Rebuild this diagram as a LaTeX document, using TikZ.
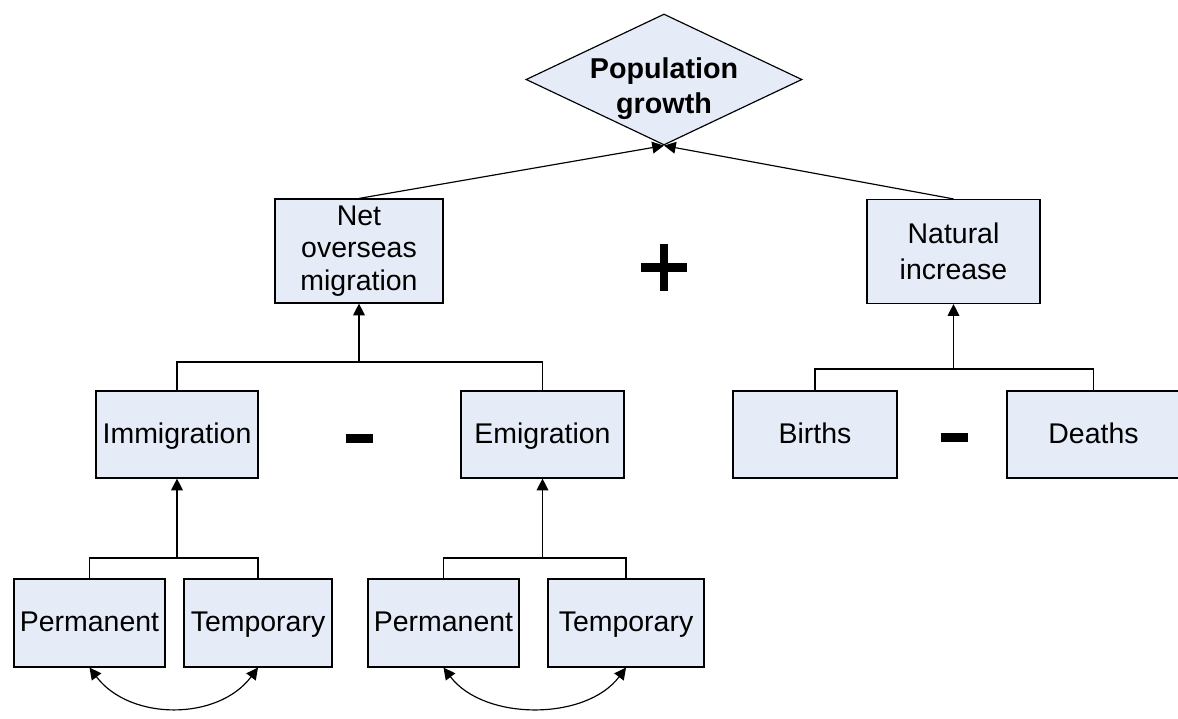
\documentclass[tikz,border=0pt]{standalone}
\usepackage{fontspec}
\setmainfont{Liberation Sans}
\usetikzlibrary{shapes.geometric,arrows.meta}
\definecolor{boxfill}{RGB}{230,236,247}
\def\pxu{0.03cm}
\begin{document}
\begin{tikzpicture}[x=0.03cm,y=-0.03cm,
  box/.style={draw=black,fill=boxfill,line width=1pt,inner sep=0pt,align=center,
    font=\fontsize{24.3}{27}\selectfont},
  bigbox/.style={box,minimum width=168*\pxu,minimum height=104*\pxu},
  midbox/.style={box,minimum height=87*\pxu,text height=19.5pt,text depth=4.9pt},
  lowbox/.style={box,minimum height=88*\pxu,text height=19.5pt,text depth=4.9pt},
  link/.style={line width=1pt},
  arr/.style={line width=1pt,-{Triangle[length=10pt,width=10pt]}},
  twoway/.style={line width=1pt,{Triangle[length=10pt,width=10pt]}-{Triangle[length=10pt,width=10pt]}},
  bar/.style={fill=black,inner sep=0pt}]
\useasboundingbox (0,0) rectangle (1178,718);

% top goal
\node[diamond,draw=black,fill=boxfill,line width=1pt,inner sep=0pt,
  minimum width=276*\pxu,minimum height=131*\pxu,
  label={[font=\bfseries\fontsize{24.5}{30}\selectfont,align=center,yshift=-9*\pxu]center:{Population\\growth}}]
  (pg) at (664,79.5) {};

% second level
\node[bigbox,font=\fontsize{24.3}{27.5}\selectfont] (nom) at (359,251) {Net\\overseas\\migration};
\node[bigbox,minimum width=173*\pxu,font=\fontsize{24.3}{30.5}\selectfont] (ni) at (953.5,251.5) {Natural\\increase};

% third level
\node[midbox,minimum width=162*\pxu] (imm) at (177,434.5) {Immigration};
\node[midbox,minimum width=163*\pxu] (emi) at (542.5,434.5) {Emigration};
\node[midbox,minimum width=164*\pxu] (bir) at (815,434.5) {Births};
\node[midbox,minimum width=173*\pxu] (dea) at (1093.5,434.5) {Deaths};

% bottom level
\node[lowbox,minimum width=151*\pxu] (p1) at (89.5,623) {Permanent};
\node[lowbox,minimum width=148*\pxu] (t1) at (258,623) {Temporary};
\node[lowbox,minimum width=151*\pxu] (p2) at (443.5,623) {Permanent};
\node[lowbox,minimum width=156*\pxu] (t2) at (626,623) {Temporary};

% operators
\node[bar,minimum width=8*\pxu,minimum height=47*\pxu] (plusv) at (664,267.5) {};
\node[bar,minimum width=46*\pxu,minimum height=9*\pxu] (plush) at (664,267.5) {};
\node[bar,minimum width=27*\pxu,minimum height=9*\pxu] (minus1) at (359.5,438.5) {};
\node[bar,minimum width=27*\pxu,minimum height=9*\pxu] (minus2) at (954.5,437.5) {};

% junctions of the brackets
\coordinate (j1) at (177,558);
\coordinate (j2) at (542.5,558);
\coordinate (j3) at (359,362);
\coordinate (j4) at (953.5,369);

% brackets
\draw[link] (p1.north) |- (j1) -| (t1.north);
\draw[arr] (j1) -- (imm.south);
\draw[link] (p2.north) |- (j2) -| (t2.north);
\draw[arr] (j2) -- (emi.south);
\draw[link] (imm.north) |- (j3) -| (emi.north);
\draw[arr] (j3) -- (nom.south);
\draw[link] (bir.north) |- (j4) -| (dea.north);
\draw[arr] (j4) -- (ni.south);

% into the goal
\draw[arr] (nom.north) -- (pg.south);
\draw[arr] (ni.north) -- (pg.south);

% exchange between permanent and temporary
\draw[twoway] (p1.south) .. controls (130,721) and (218,721) .. (t1.south);
\draw[twoway] (p2.south) .. controls (484,721) and (586,721) .. (t2.south);
\end{tikzpicture}
\end{document}
